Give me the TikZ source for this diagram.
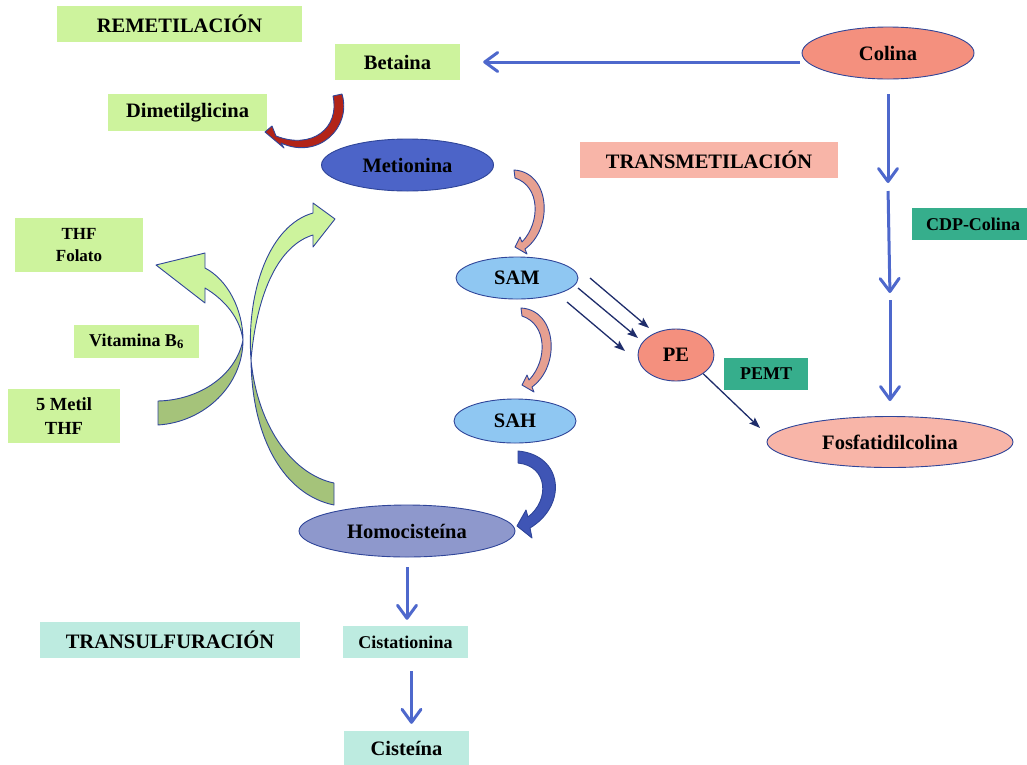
\documentclass[tikz,border=0pt]{standalone}
\usepackage{fontspec}
\setmainfont{Liberation Serif}
\usetikzlibrary{shapes.geometric,arrows.meta}
\definecolor{lgreen}{RGB}{205,243,157}
\definecolor{gdark}{RGB}{165,195,122}
\definecolor{mint}{RGB}{189,235,224}
\definecolor{salmonlt}{RGB}{248,181,168}
\definecolor{salmon}{RGB}{244,144,126}
\definecolor{teal}{RGB}{54,174,140}
\definecolor{metblue}{RGB}{76,100,200}
\definecolor{sablue}{RGB}{143,199,242}
\definecolor{homoblue}{RGB}{142,152,204}
\definecolor{edgeblue}{RGB}{47,69,153}
\definecolor{arrblue}{RGB}{78,104,204}
\definecolor{navy}{RGB}{31,45,107}
\definecolor{pinkarr}{RGB}{230,160,145}
\definecolor{redarr}{RGB}{178,36,24}
\definecolor{darkblue}{RGB}{63,85,181}
\begin{document}
\begin{tikzpicture}[x=1pt,y=-1pt,
  lbl/.style={rectangle, inner sep=0pt, align=center, font=\bfseries\fontsize{20.5}{23}\selectfont},
  sml/.style={lbl, font=\bfseries\fontsize{18}{21}\selectfont},
  ell/.style={ellipse, draw=edgeblue, line width=0.9pt, inner sep=0pt, font=\bfseries\fontsize{20.5}{23}\selectfont},
  bigarrow/.style={draw=arrblue, line width=3pt, -{Straight Barb[length=13pt,width=19pt,round]}},
  thinarrow/.style={draw=navy, line width=1.3pt, -{Stealth[length=11pt,width=8pt,inset=2pt]}},
  blockarr/.style={draw=edgeblue, line width=0.9pt, line join=round}
]
\useasboundingbox (0,0) rectangle (1027,764);

% text boxes
\node[lbl, fill=lgreen, minimum width=245pt, minimum height=36pt] (remet) at (179.5,24) {REMETILACIÓN};
\node[lbl, fill=lgreen, minimum width=125pt, minimum height=36pt] (betaina) at (397.5,62) {Betaina};
\node[lbl, fill=lgreen, minimum width=159pt, minimum height=37pt] (dimet) at (187.5,112.5) {Dimetilglicina};
\node[lbl, fill=salmonlt, minimum width=258pt, minimum height=36pt] (transmet) at (709,160) {TRANSMETILACIÓN};
\node[sml, fill=lgreen, minimum width=128pt, minimum height=54pt, font=\bfseries\fontsize{17}{22}\selectfont] (thf) at (79,245) {THF\\Folato};
\node[sml, fill=lgreen, minimum width=125pt, minimum height=33pt] (vitb) at (136.5,341.5) {Vitamina B\textsubscript{6}};
\node[sml, fill=lgreen, minimum width=112pt, minimum height=54pt, font=\bfseries\fontsize{18.5}{24}\selectfont] (mthf) at (64,416) {5 Metil\\THF};
\node[sml, fill=teal, minimum width=122pt, minimum height=32pt] (cdp) at (973,224) {CDP-Colina};
\node[sml, fill=teal, minimum width=84pt, minimum height=32pt] (pemt) at (766,374) {PEMT};
\node[lbl, fill=mint, minimum width=260pt, minimum height=36pt] (transulf) at (170,640) {TRANSULFURACIÓN};
\node[sml, fill=mint, minimum width=125pt, minimum height=32pt] (cista) at (405.5,642) {Cistationina};
\node[lbl, fill=mint, minimum width=125pt, minimum height=34pt] (cisteina) at (406.5,748) {Cisteína};

% ellipses
\node[ell, fill=salmon, minimum width=172pt, minimum height=52pt] (colina) at (888,53) {Colina};
\node[ell, fill=metblue, minimum width=172pt, minimum height=52pt] (metionina) at (407.5,165) {Metionina};
\node[ell, fill=sablue, minimum width=122pt, minimum height=42pt] (sam) at (517,278) {SAM};
\node[ell, fill=sablue, minimum width=122pt, minimum height=44pt] (sah) at (515,421) {SAH};
\node[ell, fill=homoblue, minimum width=216pt, minimum height=52pt] (homo) at (407,531) {Homocisteína};
\node[ell, fill=salmon, minimum width=76pt, minimum height=52pt] (pe) at (676,355) {PE};
\node[ell, fill=salmonlt, minimum width=246pt, minimum height=51pt] (fosfa) at (890,442) {Fosfatidilcolina};

% Colina -> Betaina
\draw[bigarrow, shorten >=23pt] ([xshift=-2pt]colina.west |- betaina.east) -- (betaina.east);

% Colina -> Fosfatidilcolina (three segments)
\coordinate (c1) at (888,187);
\coordinate (c2) at (890,297);
\draw[bigarrow, shorten <=15pt, shorten >=4pt] (colina.south) -- (c1);
\draw[bigarrow, shorten <=4pt, shorten >=4pt] (c1) -- (c2);
\draw[bigarrow, shorten <=3pt, shorten >=15pt] (c2) -- (fosfa.north);

% transsulfuration
\draw[bigarrow, shorten <=10pt, shorten >=6pt] (homo.south) -- (homo.south |- cista.north);
\draw[bigarrow, shorten <=13pt, shorten >=7pt] ([xshift=6pt]cista.south) -- ([xshift=6pt]cista.south |- cisteina.north);

% SAM -> PE thin arrows
\coordinate (s1) at (590,278); \coordinate (p1) at (649,328);
\coordinate (s2) at (578,288); \coordinate (p2) at (638,338);
\coordinate (s3) at (567,302); \coordinate (p3) at (625,351);
\draw[thinarrow] (s1) -- (p1);
\draw[thinarrow] (s2) -- (p2);
\draw[thinarrow] (s3) -- (p3);
% PE -> Fosfatidilcolina
\coordinate (f1) at (760,428);
\draw[thinarrow] (pe.south east) -- (f1);

% red curved arrow Betaina -> Dimetilglicina
\filldraw[blockarr, fill=redarr] (342,94) .. controls (352,128) and (318,160) .. (281,143)
  -- (284,148) -- (265,132) -- (272,126) -- (276,136)
  .. controls (312,150) and (340,128) .. (333,96) -- cycle;

% pink curved arrows Metionina -> SAM, SAM -> SAH
\foreach \dy/\dx in {0/0, 138/7} {
  \begin{scope}[shift={(\dx,\dy)}]
  \filldraw[blockarr, fill=pinkarr] (514,170) .. controls (550,172) and (554,228) .. (525,249)
    -- (527,254) -- (515,247) -- (520,237) -- (522,242)
    .. controls (541,222) and (540,186) .. (515,178) -- cycle;
  \end{scope}
}

% blue curved arrow SAH -> Homocisteina
\filldraw[blockarr, fill=darkblue] (518,451) .. controls (563,455) and (568,505) .. (530,528)
  -- (532,538) -- (517,526) -- (526,510) -- (528,517)
  .. controls (550,500) and (548,466) .. (518,463) -- cycle;

% green arrow 5 Metil THF -> THF Folato
\filldraw[blockarr, fill=gdark] (158,401) -- (158,425) .. controls (205,422) and (243,385) .. (243,340)
  .. controls (236,375) and (200,400) .. (158,401) -- cycle;
\filldraw[blockarr, fill=lgreen] (243,340) .. controls (243,310) and (228,280) .. (205,268)
  -- (205,253) -- (156,265) -- (205,303) -- (205,288)
  .. controls (225,300) and (240,318) .. (243,340) -- cycle;

% green arrow Homocisteina -> Metionina
\filldraw[blockarr, fill=gdark] (251,360) .. controls (252,440) and (285,495) .. (334,505)
  -- (334,483) .. controls (295,475) and (258,430) .. (251,360) -- cycle;
\filldraw[blockarr, fill=lgreen] (251,360) .. controls (246,290) and (270,225) .. (313,213)
  -- (313,203) -- (335,219) -- (313,247) -- (313,235)
  .. controls (280,245) and (257,290) .. (251,360) -- cycle;
\end{tikzpicture}
\end{document}
